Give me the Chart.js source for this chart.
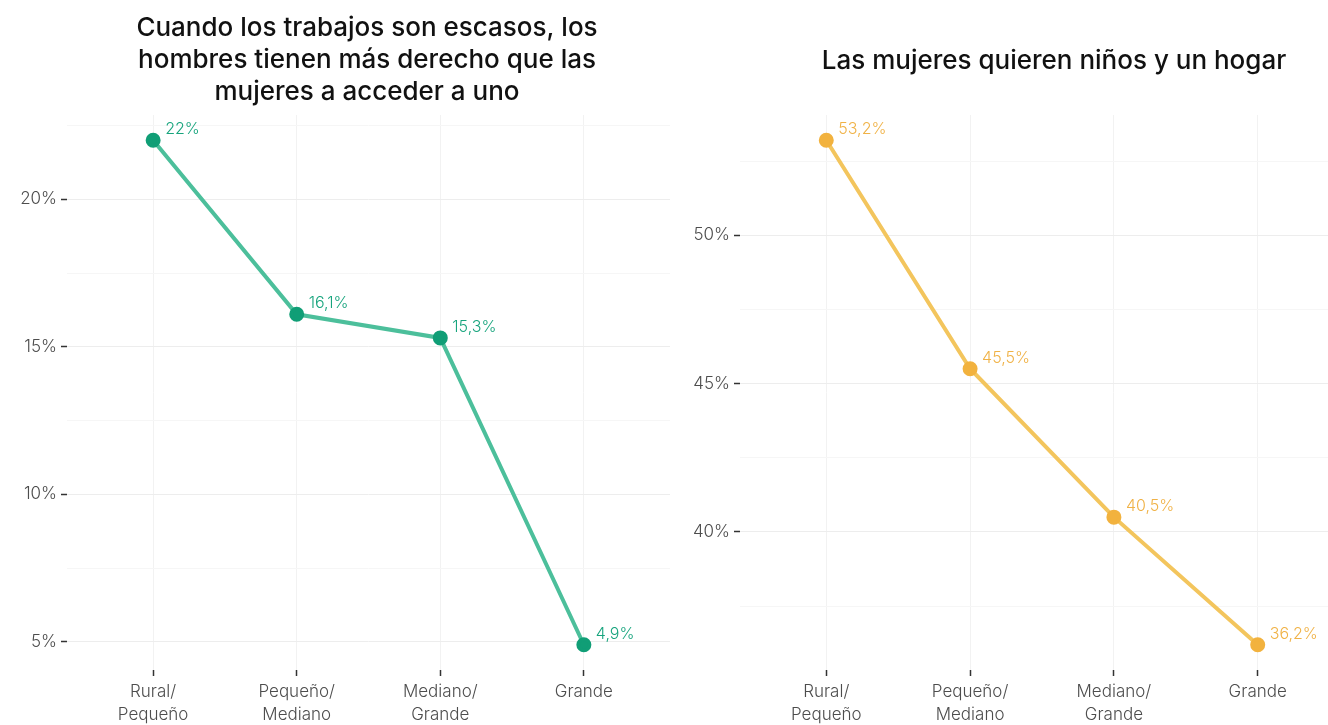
<!DOCTYPE html>
<html>
<head>
<meta charset="utf-8">
<script src="https://cdn.jsdelivr.net/npm/chart.js@4.4.1/dist/chart.umd.min.js"></script>
<style>
  html, body { margin: 0; padding: 0; background: #fff; width: 1328px; height: 725px; overflow: hidden; }
  canvas { position: absolute; top: 0; }
  #graficoTrabajo { left: 0; }
  #graficoHogar { left: 670px; }
</style>
</head>
<body>
<canvas id="graficoTrabajo" width="734" height="725"></canvas>
<canvas id="graficoHogar" width="768" height="725"></canvas>
<script>
// Datos
const categorias = [['Rural/', 'Pequeño'], ['Pequeño/', 'Mediano'], ['Mediano/', 'Grande'], ['Grande']];
const valoresTrabajo = [22, 16.1, 15.3, 4.9];
const valoresHogar = [53.2, 45.5, 40.5, 36.2];
const ticksTrabajo = [5, 10, 15, 20];
const menoresTrabajo = [7.5, 12.5, 17.5, 22.5];
const ticksHogar = [40, 45, 50];
const menoresHogar = [37.5, 42.5, 47.5, 52.5];

const fuente = "'Inter', 'Roboto', sans-serif";

function formato(v) {
    return String(v).replace('.', ',') + '%';
}

// etiquetas de valor junto a cada punto
const etiquetasPlugin = {
    id: 'etiquetas',
    afterDatasetsDraw(chart, args, opts) {
        const ctx = chart.ctx;
        const meta = chart.getDatasetMeta(0);
        ctx.save();
        ctx.font = '300 16px ' + fuente;
        ctx.fillStyle = opts.color;
        ctx.textAlign = 'left';
        ctx.textBaseline = 'middle';
        meta.data.forEach((p, i) => {
            ctx.fillText(formato(chart.data.datasets[0].data[i].y), p.x + 12, p.y - 11);
        });
        ctx.restore();
    }
};

function crearGrafico(id, titulo, valores, mayores, menores, colores, anchoEjeIzq, anchoEjeDer, pads) {
    const minV = Math.min(...valores), maxV = Math.max(...valores);
    const exp = (maxV - minV) * 0.05;
    const marcas = mayores.concat(menores).sort((a, b) => a - b);
    const esMayor = v => mayores.includes(v);

    return new Chart(document.getElementById(id), {
        type: 'line',
        data: {
            datasets: [{
                data: valores.map((v, i) => ({ x: i, y: v })),
                borderColor: colores.linea,
                borderWidth: 4,
                pointBackgroundColor: colores.punto,
                pointBorderColor: colores.punto,
                pointRadius: 5.5,
                tension: 0
            }]
        },
        options: {
            responsive: false,
            animation: false,
            layout: { padding: 0 },
            plugins: {
                legend: { display: false },
                tooltip: { enabled: false },
                etiquetas: { color: colores.texto },
                title: {
                    display: true,
                    text: titulo,
                    color: '#111',
                    font: { family: fuente, size: 26, weight: '500', lineHeight: '32px' },
                    padding: pads
                }
            },
            scales: {
                x: {
                    type: 'linear',
                    min: -0.6,
                    max: 3.6,
                    afterBuildTicks: s => { s.ticks = categorias.map((c, i) => ({ value: i })); },
                    afterFit: s => { s.height = 55; },
                    grid: { color: '#f2f2f2', lineWidth: 1, tickLength: 6, tickColor: '#333', tickWidth: 1.5 },
                    border: { display: false },
                    ticks: {
                        padding: 4,
                        color: '#4d4d4d',
                        font: { family: fuente, size: 17, weight: '300', lineHeight: 1.35 },
                        callback: v => categorias[v]
                    }
                },
                y: {
                    min: minV - exp,
                    max: maxV + exp,
                    afterBuildTicks: s => { s.ticks = marcas.map(v => ({ value: v })); },
                    afterFit: s => { s.width = anchoEjeIzq; },
                    grid: {
                        color: c => esMayor(c.tick.value) ? '#ededed' : '#f6f6f6',
                        lineWidth: 1,
                        tickLength: 6,
                        tickColor: c => esMayor(c.tick.value) ? '#333' : 'rgba(0,0,0,0)',
                        tickWidth: 1.5
                    },
                    border: { display: false },
                    ticks: {
                        padding: 4,
                        color: '#4d4d4d',
                        font: { family: fuente, size: 17, weight: '300' },
                        callback: v => esMayor(v) ? v + '%' : ''
                    }
                },
                yDer: {
                    position: 'right',
                    afterFit: s => { s.width = anchoEjeDer; },
                    grid: { display: false },
                    border: { display: false },
                    ticks: { display: false }
                }
            }
        },
        plugins: [etiquetasPlugin]
    });
}

crearGrafico('graficoTrabajo',
    ['Cuando los trabajos son escasos, los', 'hombres tienen más derecho que las', 'mujeres a acceder a uno'],
    valoresTrabajo, ticksTrabajo, menoresTrabajo,
    { linea: '#4cbf9b', punto: '#109e76', texto: '#17a47d' },
    67, 64, { top: 12, bottom: 7 });

crearGrafico('graficoHogar',
    'Las mujeres quieren niños y un hogar',
    valoresHogar, ticksHogar, menoresHogar,
    { linea: '#f3c55d', punto: '#f2b23e', texto: '#f0b246' },
    70, 94, { top: 45, bottom: 38 });
</script>
</body>
</html>
